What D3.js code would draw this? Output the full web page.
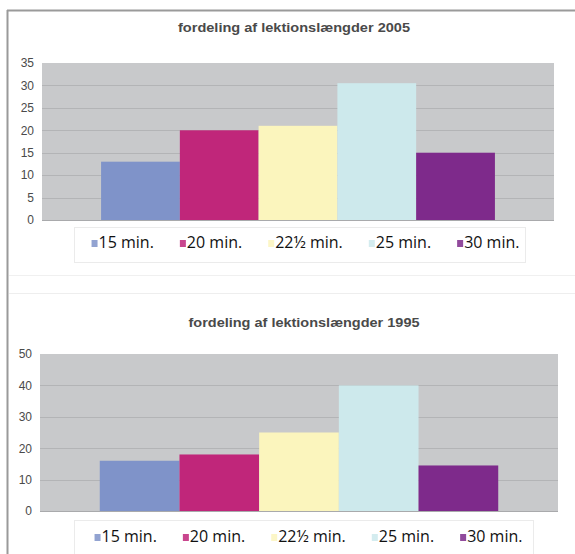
<!DOCTYPE html>
<html>
<head>
<meta charset="utf-8">
<script src="https://cdn.jsdelivr.net/npm/d3@7"></script>
<style>
  html, body { margin: 0; padding: 0; background: #ffffff; }
  svg { display: block; }
</style>
</head>
<body>
<svg id="chart" width="575" height="554"></svg>
<script>
// ---- data ----
const categories = ["15 min.", "20 min.", "22½ min.", "25 min.", "30 min."];
const values2005 = [13, 20, 21, 30.5, 15];
const values1995 = [16, 18, 25, 40, 14.5];
const ticks2005 = [0, 5, 10, 15, 20, 25, 30, 35];
const ticks1995 = [0, 10, 20, 30, 40, 50];
const title2005 = "fordeling af lektionslængder 2005";
const title1995 = "fordeling af lektionslængder 1995";
const seriesColors = ["#7f93c9", "#c0267a", "#fbf5bd", "#cde9ec", "#7e2a8b"];

// ---- layout ----
const svg = d3.select("#chart");

// outer frame
svg.append("line").attr("x1", 7).attr("x2", 575).attr("y1", 10.5).attr("y2", 10.5)
  .attr("stroke", "#9a9a9a").attr("stroke-width", 2);
svg.append("line").attr("x1", 7.5).attr("x2", 7.5).attr("y1", 10).attr("y2", 554)
  .attr("stroke", "#9a9a9a").attr("stroke-width", 2);
// faint separators between the two chart objects
svg.append("line").attr("x1", 9).attr("x2", 575).attr("y1", 275.5).attr("y2", 275.5)
  .attr("stroke", "#f0f0f0").attr("stroke-width", 1);
svg.append("line").attr("x1", 9).attr("x2", 575).attr("y1", 293.5).attr("y2", 293.5)
  .attr("stroke", "#eeeeee").attr("stroke-width", 1);

const charts = [
  { title: title2005, values: values2005, ticks: ticks2005,
    L: 42, R: 554, T: 63, B: 220, titleX: 294, titleY: 32, titleW: 232,
    legend: { x0: 74, x1: 525, y0: 227, y1: 262, baseline: 248, shift: 6 } },
  { title: title1995, values: values1995, ticks: ticks1995,
    L: 40, R: 558, T: 354, B: 511, titleX: 304, titleY: 327, titleW: 231,
    legend: { x0: 74, x1: 533, y0: 520, y1: 560, baseline: 542, shift: 5 } }
];

charts.forEach(c => {
  const g = svg.append("g");
  const yMax = c.ticks[c.ticks.length - 1];
  const y = d3.scaleLinear().domain([0, yMax]).range([c.B, c.T]);
  const x0 = d3.scaleBand().domain(["all"]).range([c.L, c.R]).paddingInner(0).paddingOuter(0.15);
  const x1 = d3.scaleBand().domain(categories).range([0, x0.bandwidth()]).padding(0);

  // title
  g.append("text")
    .attr("x", c.titleX).attr("y", c.titleY)
    .attr("text-anchor", "middle")
    .attr("font-family", "Liberation Sans, Arial, sans-serif")
    .attr("font-size", 12.5).attr("font-weight", "bold")
    .attr("fill", "#4a4a4a")
    .attr("textLength", c.titleW).attr("lengthAdjust", "spacingAndGlyphs")
    .text(c.title);

  // plot background
  g.append("rect").attr("x", c.L).attr("y", c.T)
    .attr("width", c.R - c.L).attr("height", c.B - c.T)
    .attr("fill", "#c8c9cb");

  // gridlines
  g.append("g")
    .selectAll("line").data(c.ticks.filter(t => t > 0 && t < yMax)).join("line")
    .attr("x1", c.L).attr("x2", c.R)
    .attr("y1", d => Math.round(y(d)) + 0.5).attr("y2", d => Math.round(y(d)) + 0.5)
    .attr("stroke", "#b3b4b6").attr("stroke-width", 1);

  // y axis
  const yAxis = d3.axisLeft(y).tickValues(c.ticks).tickSize(0).tickPadding(8);
  const ax = g.append("g").attr("transform", `translate(${c.L},0)`).call(yAxis);
  ax.select(".domain").remove();
  ax.selectAll("text")
    .attr("font-family", "Liberation Sans, Arial, sans-serif")
    .attr("font-size", 12).attr("fill", "#4a4a4a");

  // bars
  g.append("g").attr("transform", `translate(${x0("all")},0)`)
    .selectAll("rect").data(categories.map((k, i) => ({ k, v: c.values[i], col: seriesColors[i] })))
    .join("rect")
    .attr("x", d => x1(d.k)).attr("width", x1.bandwidth())
    .attr("y", d => y(d.v)).attr("height", d => y(0) - y(d.v))
    .attr("fill", d => d.col);

  // baseline
  g.append("line").attr("x1", c.L).attr("x2", c.R)
    .attr("y1", c.B + 0.5).attr("y2", c.B + 0.5)
    .attr("stroke", "#a9aaac").attr("stroke-width", 1);

  // legend
  const lg = c.legend;
  g.append("rect").attr("x", lg.x0 + 0.5).attr("y", lg.y0 + 0.5)
    .attr("width", lg.x1 - lg.x0).attr("height", lg.y1 - lg.y0)
    .attr("fill", "#ffffff").attr("stroke", "#ebebeb");

  const items = g.append("g");
  const itemG = items.selectAll("g").data(categories).join("g");
  itemG.append("rect")
    .attr("width", 6).attr("height", 7)
    .attr("y", lg.baseline - 8)
    .attr("fill", (d, i) => seriesColors[i]).attr("opacity", 0.85);
  const txt = itemG.append("text")
    .attr("x", 7).attr("y", lg.baseline)
    .attr("font-family", "Open Sans, Noto Sans, sans-serif")
    .attr("font-size", 16).attr("fill", "#111")
    .text(d => d);
  // lay out sequentially, centered in the legend box
  const gap = 26;
  const widths = [];
  txt.each(function () { widths.push(7 + this.getComputedTextLength()); });
  const total = d3.sum(widths) + gap * (widths.length - 1);
  let cx = (lg.x0 + lg.x1) / 2 - total / 2 + lg.shift;
  itemG.attr("transform", (d, i) => {
    const t = `translate(${cx},0)`;
    cx += widths[i] + gap;
    return t;
  });
});
</script>
</body>
</html>
